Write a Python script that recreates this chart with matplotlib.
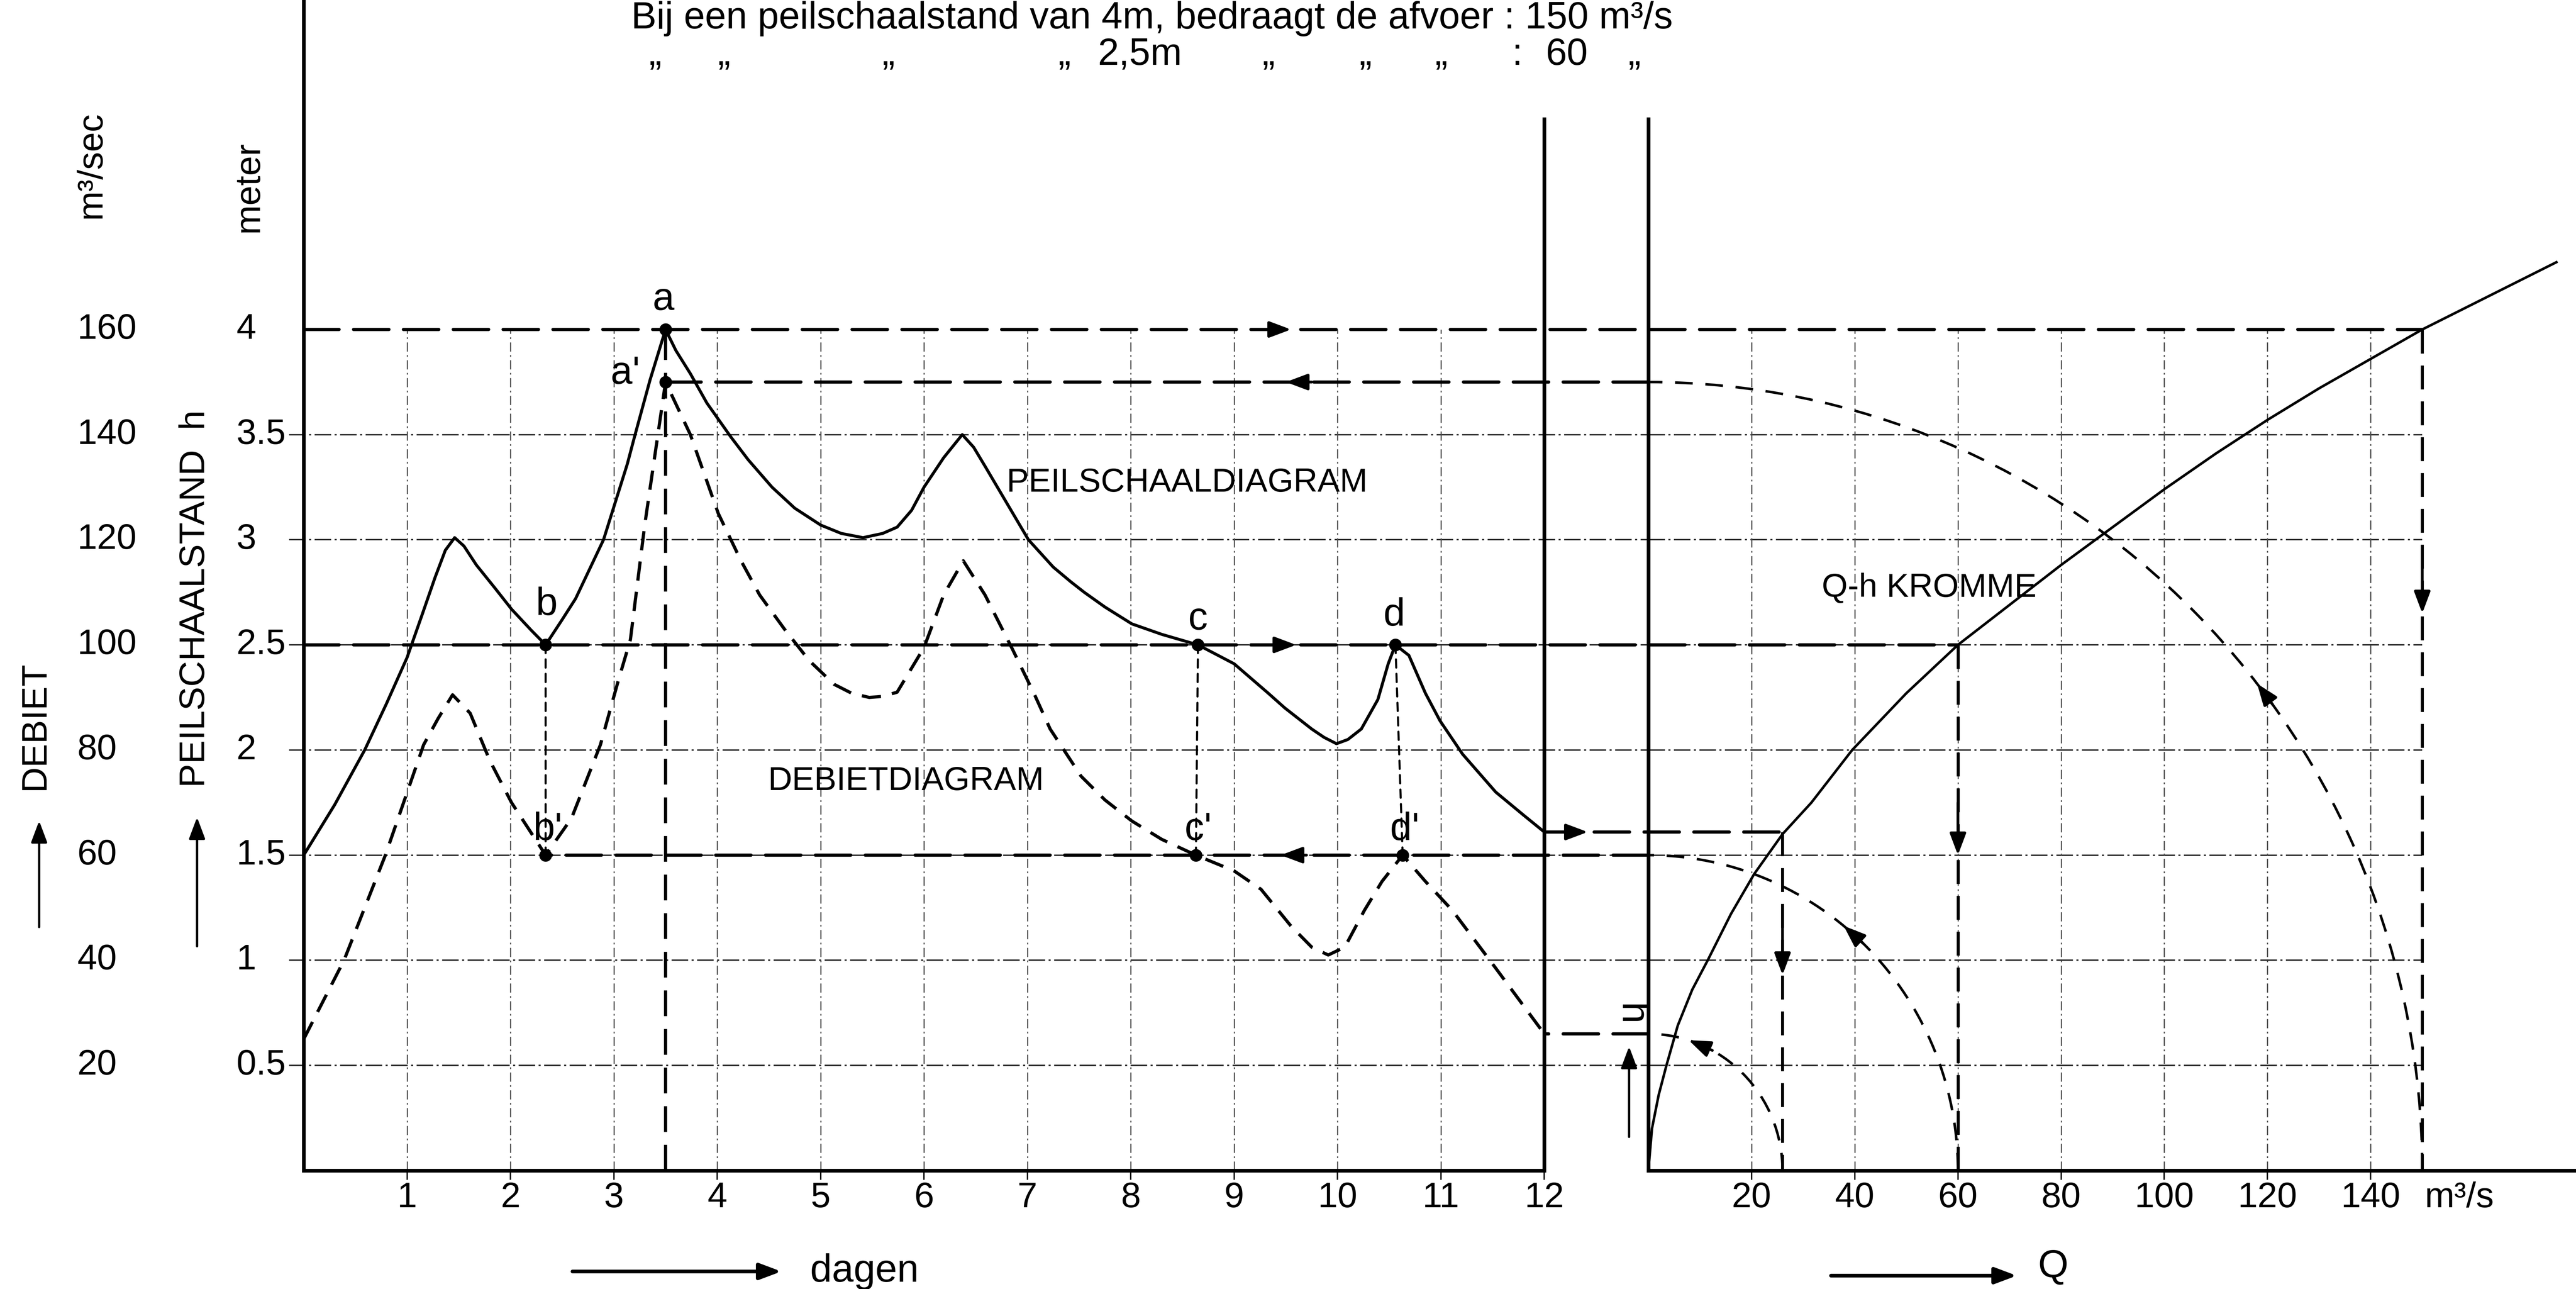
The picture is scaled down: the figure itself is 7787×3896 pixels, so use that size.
import numpy as np
import matplotlib
matplotlib.use('Agg')
import matplotlib.pyplot as plt
from matplotlib.patches import Arc, ConnectionPatch

plt.rcParams['font.family'] = ['Liberation Sans', 'DejaVu Sans']
plt.rcParams['font.size'] = 15.5

# ---- values ----

# peilschaaldiagram (solid): day vs gauge level h (m)
peil_dag = [0.0, 0.3, 0.59, 0.8, 1.0, 1.15, 1.27, 1.37, 1.46, 1.55, 1.67, 1.85, 2.01, 2.2,
            2.34, 2.5, 2.63, 2.9, 3.13, 3.2, 3.35, 3.5, 3.6, 3.74, 3.9, 4.13, 4.3, 4.53,
            4.75, 5.0, 5.2, 5.41, 5.6, 5.74, 5.88, 6.0, 6.19, 6.37, 6.48, 6.59, 6.77,
            7.01, 7.25, 7.42, 7.55, 7.75, 8.01, 8.3, 8.65, 9.0, 9.33, 9.49, 9.75, 9.87,
            9.99, 10.1, 10.23, 10.39, 10.49, 10.56, 10.69, 10.85, 10.99, 11.21, 11.53,
            11.8, 12.0]
peil_h = [1.5, 1.74, 2.0, 2.22, 2.44, 2.65, 2.82, 2.95, 3.01, 2.97, 2.88, 2.77, 2.67, 2.57,
          2.5, 2.62, 2.72, 3.0, 3.36, 3.49, 3.76, 4.0, 3.9, 3.79, 3.65, 3.49, 3.38, 3.25,
          3.15, 3.07, 3.03, 3.01, 3.03, 3.06, 3.14, 3.25, 3.39, 3.5, 3.44, 3.35, 3.2,
          3.0, 2.87, 2.8, 2.75, 2.68, 2.6, 2.55, 2.5, 2.41, 2.27, 2.2, 2.1, 2.06,
          2.03, 2.05, 2.1, 2.24, 2.41, 2.5, 2.45, 2.27, 2.14, 1.98, 1.8,
          1.69, 1.61]

# debietdiagram (dashed): day vs discharge Q (m3/s)
debiet_dag = [0.0, 0.39, 0.79, 1.16, 1.3, 1.44, 1.61, 1.8, 2.01, 2.34, 2.59, 2.87, 3.04, 3.16,
              3.3, 3.5, 3.74, 4.01, 4.23, 4.41, 4.65, 4.89, 5.13, 5.3, 5.47, 5.6, 5.74,
              6.0, 6.19, 6.38, 6.59, 6.86, 7.07, 7.22, 7.37, 7.52, 7.75, 8.01, 8.3, 8.63,
              9.0, 9.26, 9.55, 9.75, 9.91, 10.07, 10.26, 10.43, 10.63, 10.85, 11.11, 11.53,
              12.0]
debiet_Q = [25, 40, 60, 81, 86, 90.5, 87, 78, 70, 60, 67, 81, 93, 101,
            123, 150, 140, 125, 116, 109.5, 103, 97, 92.5, 90.8, 90, 90.2, 91,
            99.5, 109.5, 116, 109.5, 99, 90.5, 84, 79.5, 75, 70.5, 66.5, 63, 60,
            57, 53.5, 46.5, 42.5, 41, 42.5, 49.5, 55, 60, 55, 49.5, 38.5,
            26]

# Q-h kromme
kromme_Q = [0, 0.7, 2.0, 3.5, 5.7, 8.5, 11.5, 16, 20.5, 26, 31.6, 39.5, 50, 60, 70, 80,
            90, 100, 110, 120, 130, 140, 150, 163, 176]
kromme_h = [0, 0.2, 0.36, 0.5, 0.69, 0.86, 1.0, 1.22, 1.41, 1.6, 1.75, 2.0, 2.27, 2.5,
            2.69, 2.88, 3.06, 3.24, 3.41, 3.57, 3.72, 3.86, 4.0, 4.16, 4.32]

# marked points on both diagrams
punt_naam = ['a', 'b', 'c', 'd']
punt_dag = [3.5, 2.34, 8.65, 10.56]
punt_h = [4.0, 2.5, 2.5, 2.5]
punt_dag_q = [3.5, 2.34, 8.63, 10.63]
punt_Q = [150, 60, 60, 60]

# read-off constructions: level h -> Q-h kromme -> Q -> back to debiet diagram
constr_h = [4.0, 2.5, 1.61]
constr_Q = [150, 60, 26]
constr_start_dag = [0, 0, 12]
constr_back_dag = [3.5, 2.34, 12]

dag_ticks = list(range(1, 13))
h_ticks = [0.5, 1, 1.5, 2, 2.5, 3, 3.5, 4]
h_labels = ['0.5', '1', '1.5', '2', '2.5', '3', '3.5', '4']
Q_left_ticks = [20, 40, 60, 80, 100, 120, 140, 160]
Q_ticks = [20, 40, 60, 80, 100, 120, 140]

Q_PER_M = 40      # 160 m3/s on the debiet scale sits at 4 m
TOP_H = 5.567     # left axis runs to the top edge of the sheet

# ---- figure ----
fig = plt.figure(figsize=(7787 / 500, 3896 / 500), dpi=500)
ax = fig.add_axes([0.1179, 0.0919, 0.4816, 0.9081])
axr = fig.add_axes([0.6399, 0.0919, 0.3601, 0.9081])
ax.set_xlim(0, 12)
ax.set_ylim(0, TOP_H)
axr.set_xlim(0, 179.8)
axr.set_ylim(0, TOP_H)
axq = ax.twinx()
axq.set_ylim(0, TOP_H * Q_PER_M)
axq.axis('off')
axrq = axr.twinx()
axrq.set_ylim(0, TOP_H * Q_PER_M)
axrq.axis('off')

for a in (ax, axr):
    a.spines['top'].set_visible(False)
    for s in a.spines.values():
        s.set_linewidth(1.6)
ax.spines['right'].set_bounds(0, 5.0)
axr.spines['right'].set_visible(False)
axr.spines['left'].set_bounds(0, 5.0)
ax.set_yticks([])
axr.set_yticks([])
ax.set_xticks(dag_ticks, labels=[])
axr.set_xticks(Q_ticks, labels=[])
for a in (ax, axr):
    a.tick_params(axis='x', length=4, width=0.6, direction='out')

# grid
grid_ls = (0, (12, 2.5, 1.5, 2.5))
ax.hlines(h_ticks[:-1], -0.14, 13, colors='0.15', lw=0.6, linestyles=grid_ls, clip_on=False)
axr.hlines(h_ticks[:-1], 0, 150, colors='0.15', lw=0.6, linestyles=grid_ls)
ax.vlines(dag_ticks[:-1], 0, 4, colors='0.3', lw=0.5, linestyles=(0, (8, 3, 1.5, 3)))
axr.vlines(Q_ticks, 0, 4, colors='0.3', lw=0.5, linestyles=(0, (8, 3, 1.5, 3)))

# curves
ax.plot(peil_dag, peil_h, color='k', lw=1.3)
axq.plot(debiet_dag, debiet_Q, color='k', lw=1.4, ls=(0, (6, 3.5)))
axr.plot(kromme_Q, kromme_h, color='k', lw=1.1)
ax.plot(punt_dag, punt_h, 'o', color='k', ms=4.5)
axq.plot(punt_dag_q, punt_Q, 'o', color='k', ms=4.5)

# point labels
lab_off = [(-0.02, 0.14), (0.01, 0.19), (0.0, 0.12), (-0.01, 0.14)]
for n, d, h, (ox, oy) in zip(punt_naam, punt_dag, punt_h, lab_off):
    ax.text(d + ox, h + oy, n, ha='center', va='center', fontsize=17)
for n, dq, q in zip(punt_naam[1:], punt_dag_q[1:], punt_Q[1:]):
    axq.text(dq + 0.02, q + 4.8, n + "'", ha='center', va='center', fontsize=17)
axq.text(punt_dag_q[0] - 0.39, punt_Q[0] + 1.6, punt_naam[0] + "'", ha='center', va='center',
         fontsize=17)

# vertical connectors between the two diagrams
ax.vlines(punt_dag[0], 0, punt_h[0], colors='k', lw=1.4, linestyles=(0, (8, 4)))
for d, h, dq, q in zip(punt_dag[1:], punt_h[1:], punt_dag_q[1:], punt_Q[1:]):
    fig.add_artist(ConnectionPatch((d, h), (dq, q), coordsA=ax.transData, coordsB=axq.transData,
                                   color='k', lw=0.9, ls=(0, (4, 3))))


def link(pa, axa, pb, axb, **kw):
    fig.add_artist(ConnectionPatch(pa, pb, coordsA=axa.transData, coordsB=axb.transData,
                                   color='k', **kw))


def head(a, tail, tip, lw=1.2):
    a.annotate('', xy=tip, xytext=tail, annotation_clip=False,
               arrowprops=dict(arrowstyle='-|>,head_length=0.8,head_width=0.3', color='k',
                               lw=lw, shrinkA=0, shrinkB=0, mutation_scale=10))


heavy = dict(lw=1.4, ls=(0, (11, 4.5)))
for h, q, d0, d1 in zip(constr_h, constr_Q, constr_start_dag, constr_back_dag):
    link((d0, h), ax, (q, h), axr, **heavy)
    axr.plot([q, q], [h, 0], color='k', lw=1.3, ls=(0, (8, 4)))
    axrq.add_patch(Arc((0, 0), 2 * q, 2 * q, theta1=0, theta2=90, color='k', lw=1.1,
                       ls=(0, (7, 5))))
    link((0, q), axrq, (d1, q), axq, **heavy)

# arrow heads along the constructions
head(ax, (9.3, constr_h[0]), (9.55, constr_h[0]))
head(axq, (9.75, constr_Q[0]), (9.5, constr_Q[0]))
head(ax, (9.35, constr_h[1]), (9.6, constr_h[1]))
head(axq, (9.7, constr_Q[1]), (9.45, constr_Q[1]))
head(ax, (12.15, constr_h[2]), (12.42, constr_h[2]))
for q, h_arr in zip(constr_Q, [2.65, 1.5, 0.93]):
    head(axr, (q, h_arr + 0.25), (q, h_arr))
for q, q_arr in zip(constr_Q, [121, 41.6, 12.4]):
    t0 = np.arccos(q_arr / q)
    dt = 5.0 / q
    head(axrq, (q * np.cos(t0), q * np.sin(t0)), (q * np.cos(t0 + dt), q * np.sin(t0 + dt)))

# small h marker between the panels
ax.text(12.83, 0.74, 'h', rotation=-90, ha='center', va='center', fontsize=17)
head(ax, (12.82, 0.16), (12.82, 0.59), lw=1.0)

# axis labels
for h, lab in zip(h_ticks, h_labels):
    ax.text(-0.65, h, lab, ha='left', va='center')
for q in Q_left_ticks:
    axq.text(-2.19, q, str(q), ha='left', va='center')
for d in dag_ticks:
    ax.text(d, -0.13, str(d), ha='center', va='center')
for q in Q_ticks:
    axr.text(q, -0.13, str(q), ha='center', va='center')
axr.text(150.5, -0.13, 'm³/s', ha='left', va='center')

fig.text(0.0354, 0.872, 'm³/sec', rotation=90, ha='center', va='center')
fig.text(0.0966, 0.8552, 'meter', rotation=90, ha='center', va='center')
fig.text(0.0758, 0.5354, 'PEILSCHAALSTAND  h', rotation=90, ha='center', va='center')
fig.text(0.0135, 0.4369, 'DEBIET', rotation=90, ha='center', va='center')
for x, y0, y1 in [(0.0765, 0.2659, 0.366), (0.0152, 0.2808, 0.3632)]:
    ax.annotate('', xy=(x, y1), xytext=(x, y0), xycoords='figure fraction',
                textcoords='figure fraction',
                arrowprops=dict(arrowstyle='-|>,head_length=0.8,head_width=0.3', color='k',
                                lw=1.0, shrinkA=0, shrinkB=0, mutation_scale=10))

ax.text(4.9, -0.48, 'dagen', ha='left', va='center', fontsize=17)
head(ax, (2.6, -0.48), (4.62, -0.48), lw=1.6)
axr.text(75.5, -0.46, 'Q', ha='left', va='center', fontsize=17)
head(axr, (35.4, -0.5), (71.4, -0.5), lw=1.6)

# diagram names
ax.text(6.8, 3.27, 'PEILSCHAALDIAGRAM', ha='left', va='center', fontsize=14.5)
ax.text(4.49, 1.85, 'DEBIETDIAGRAM', ha='left', va='center', fontsize=14.5)
axr.text(33.6, 2.77, 'Q-h KROMME', ha='left', va='center', fontsize=14.5)

# note at the top of the sheet
fig.text(0.245, 0.9779, 'Bij een peilschaalstand van 4m, bedraagt de afvoer : 150 m³/s',
         fontsize=16.5, va='baseline', ha='left')
for x, s in [(0.252, '„'), (0.2786, '„'), (0.3425, '„'), (0.4108, '„'), (0.4261, '2,5m'),
             (0.490, '„'), (0.5277, '„'), (0.557, '„'), (0.587, ':'), (0.600, '60'),
             (0.632, '„')]:
    fig.text(x, 0.9497, s, fontsize=16.5, va='baseline', ha='left')

fig.savefig('out.png', dpi=500)
